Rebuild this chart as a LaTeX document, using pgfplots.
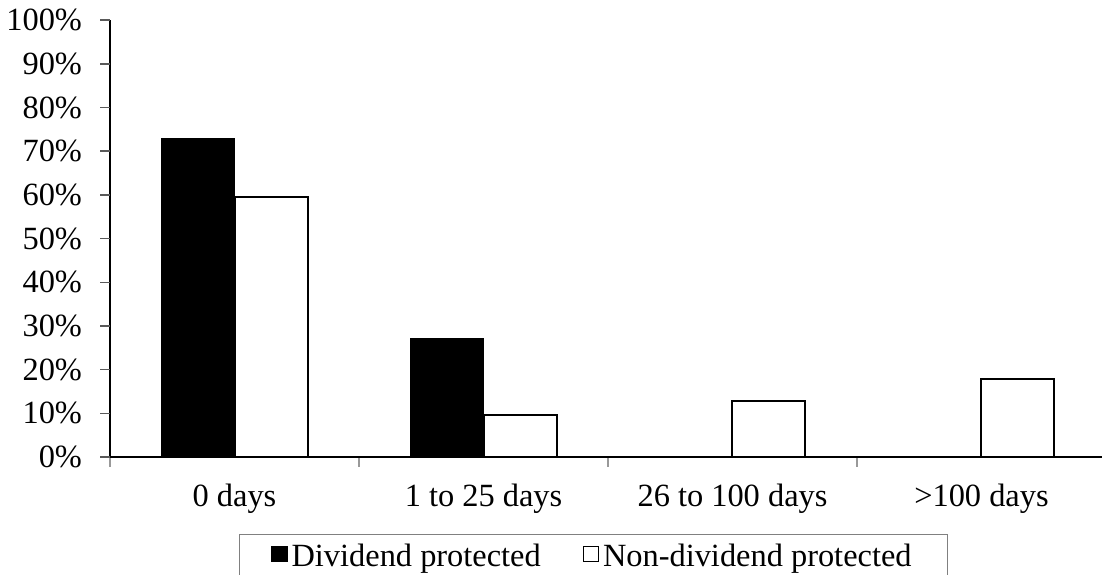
\documentclass[border=0pt]{standalone}
\usepackage{fontspec}
\setmainfont{Liberation Serif}
\usepackage{pgfplots}
\usetikzlibrary{calc}
\pgfplotsset{compat=1.18}
\begin{document}
\begin{tikzpicture}
\begin{axis}[
  width=496pt, height=218.35pt, scale only axis,
  xmin=-0.5, xmax=3.484, ymin=0, ymax=100,
  axis x line=bottom, axis y line=left,
  axis line style={-, black, line width=0.6pt},
  xtick align=outside, ytick align=outside,
  major tick length=5pt,
  xtick style={draw=gray!80, line width=0.7pt},
  ytick style={draw=gray!80, line width=0.7pt},
  ytick={0,10,...,100},
  yticklabels={0\%,10\%,20\%,30\%,40\%,50\%,60\%,70\%,80\%,90\%,100\%},
  xtick={-0.5,0.5,1.5,2.5},
  xticklabels={},
  extra x ticks={0,1,2,3},
  extra x tick labels={0 days,1 to 25 days,26 to 100 days,>100 days},
  extra x tick style={major tick length=0pt, xticklabel style={yshift=-10pt}},
  tick label style={font=\fontsize{16.2}{19}\selectfont, text=black},
  yticklabel style={xshift=-5.5pt},
  ybar=0pt, bar width=36.5pt,
  legend columns=2,
  legend style={at={(0.4874,-0.1763)}, anchor=north, draw=gray, line width=0.5pt,
    font=\fontsize{16.2}{19}\selectfont, inner xsep=16pt, inner ysep=3pt,
    /tikz/every even column/.append style={column sep=19pt}},
  legend image code/.code={\draw[#1, line width=0.6pt] (0pt,-2pt) rectangle (7.5pt,5.5pt);},
  clip=false,
]
\addplot[draw=black, fill=black] coordinates {(0,72.9) (1,27.1) (2,0) (3,0)};
\addplot[draw=black, fill=white, line width=1pt] coordinates {(0,59.6) (1,9.7) (2,12.9) (3,17.8)};
\legend{Dividend protected, Non-dividend protected}
\coordinate (bbsw) at (rel axis cs:-0.1109,-0.2702);
\coordinate (bbne) at (rel axis cs:1,1.0465);
\coordinate (yorig) at (axis cs:-0.5,0);
\coordinate (ytop) at (axis cs:-0.5,100);
\end{axis}
\foreach \k in {0,...,10}{
  \draw[gray!70!black, line width=0.8pt] ($(yorig)!\k/10!(ytop)$) -- ++(-5pt,0pt);
}
\pgfresetboundingbox
\useasboundingbox (bbsw) rectangle (bbne);
\end{tikzpicture}
\end{document}
